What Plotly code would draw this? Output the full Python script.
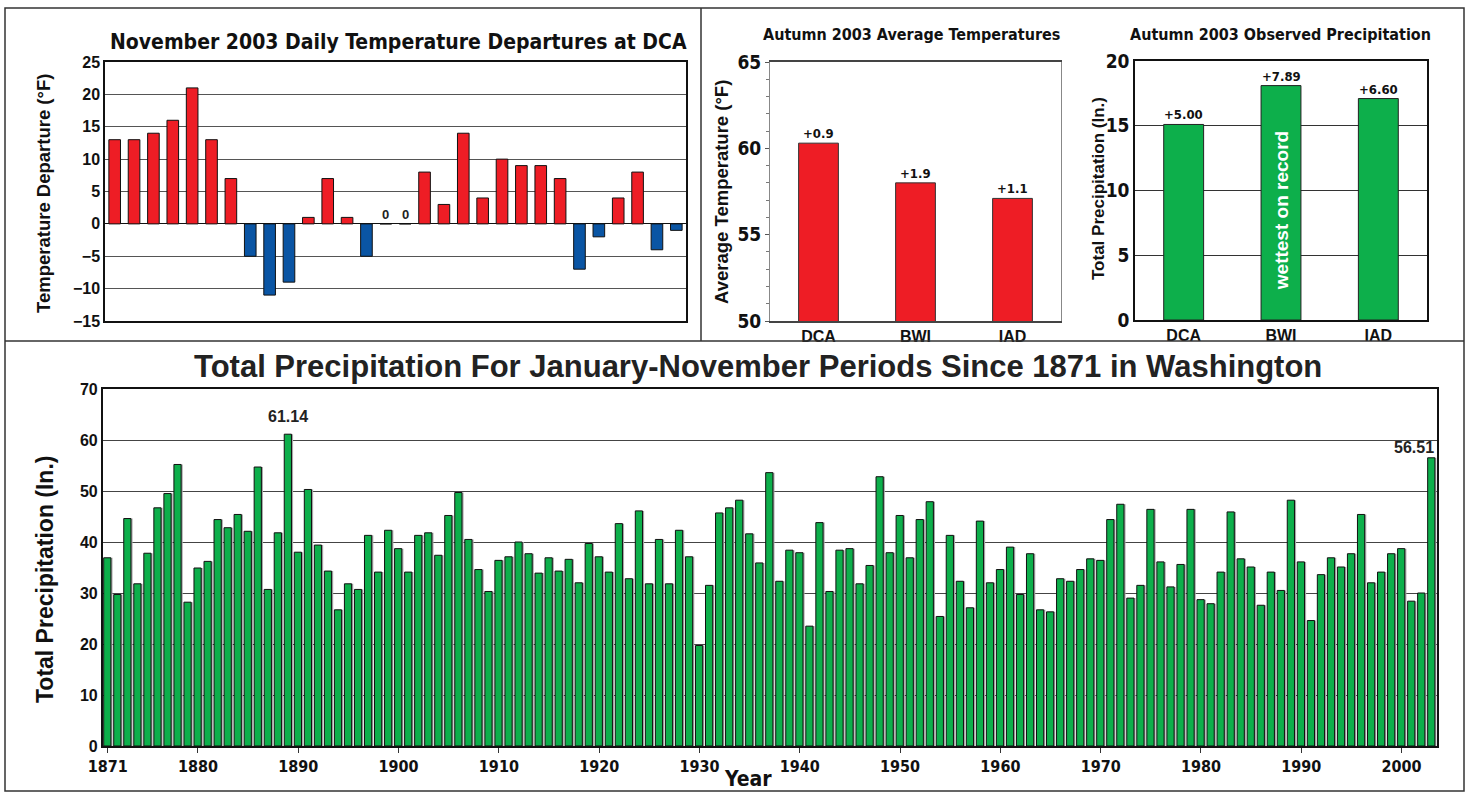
import plotly.graph_objects as go

W, H = 1468, 794

# ---------------- data ----------------
days = list(range(1, 31))
temp_dep = [13, 13, 14, 16, 21, 13, 7, -5, -11, -9, 1, 7, 1, -5, 0, 0, 8, 3, 14, 4,
            10, 9, 9, 7, -7, -2, 4, 8, -4, -1]

stations = ["DCA", "BWI", "IAD"]
avg_temp = [60.3, 58.0, 57.1]
temp_labels = ["+0.9", "+1.9", "+1.1"]
precip = [15.1, 18.1, 17.1]
precip_labels = ["+5.00", "+7.89", "+6.60"]

years = list(range(1871, 2004))
jan_nov_precip = [
    36.9, 29.7, 44.6, 31.8, 37.8, 46.7, 49.5, 55.2, 28.2,
    34.9, 36.2, 44.4, 42.8, 45.4, 42.1, 54.7, 30.7, 41.8, 61.14,
    38.0, 50.3, 39.4, 34.3, 26.7, 31.8, 30.7, 41.3, 34.1, 42.3,
    38.7, 34.1, 41.3, 41.8, 37.4, 45.2, 49.7, 40.5, 34.6, 30.3,
    36.4, 37.1, 40.0, 37.7, 33.9, 36.9, 34.3, 36.6, 32.0, 39.7,
    37.1, 34.1, 43.6, 32.8, 46.1, 31.8, 40.5, 31.8, 42.3, 37.1,
    19.7, 31.5, 45.7, 46.7, 48.2, 41.6, 35.9, 53.6, 32.3, 38.4,
    37.9, 23.5, 43.8, 30.3, 38.4, 38.7, 31.8, 35.4, 52.8, 37.9,
    45.2, 36.9, 44.4, 47.9, 25.4, 41.3, 32.3, 27.1, 44.1, 32.0,
    34.6, 39.0, 29.7, 37.7, 26.7, 26.3, 32.8, 32.3, 34.6, 36.7,
    36.4, 44.4, 47.4, 29.0, 31.5, 46.4, 36.1, 31.2, 35.6, 46.4,
    28.7, 27.9, 34.1, 45.9, 36.7, 35.1, 27.6, 34.1, 30.5, 48.2,
    36.1, 24.6, 33.6, 36.9, 35.1, 37.7, 45.4, 32.0, 34.1, 37.7,
    38.7, 28.4, 30.0, 56.51,
]
year_ticks = [1871, 1880, 1890, 1900, 1910, 1920, 1930, 1940, 1950, 1960, 1970, 1980, 1990, 2000]

# ---------------- styles ----------------
RED = "#EE1D25"
BLUE = "#0A55A4"
GREEN = "#0DAF4B"
INK = "#111111"
ARIAL = "Liberation Sans, Arial, sans-serif"
NARROW = "DejaVu Sans Condensed, Liberation Sans Narrow, sans-serif"


def dx(x0, x1):
    return [x0 / W, x1 / W]


def dy(y_top, y_bot):
    return [1 - y_bot / H, 1 - y_top / H]


def bfont(size, family=ARIAL, color=INK):
    return dict(family=family, size=size, color=color, weight="bold")


fig = go.Figure()

# ---- top-left: daily departures ----
fig.add_trace(go.Bar(
    x=days, y=temp_dep,
    marker=dict(color=[RED if v >= 0 else BLUE for v in temp_dep],
                line=dict(color=INK, width=1)),
    width=0.6, xaxis="x", yaxis="y", showlegend=False))

# ---- top-middle: average temps ----
fig.add_trace(go.Bar(
    x=stations, y=avg_temp,
    marker=dict(color=RED, line=dict(color="#333333", width=1)),
    xaxis="x2", yaxis="y2", showlegend=False, width=0.41))

# ---- top-right: precipitation ----
fig.add_trace(go.Bar(
    x=stations, y=precip,
    marker=dict(color=GREEN, line=dict(color="#222222", width=1)),
    xaxis="x3", yaxis="y3", showlegend=False, width=0.41))

# ---- bottom: Jan-Nov precipitation (grey drop shadow + bars) ----
fig.add_trace(go.Bar(
    x=years, y=jan_nov_precip, width=0.72, offset=-0.24,
    marker=dict(color="#A8A8A8", line=dict(width=0)),
    xaxis="x4", yaxis="y4", showlegend=False, hoverinfo="skip"))
fig.add_trace(go.Bar(
    x=years, y=jan_nov_precip, width=0.72, offset=-0.40,
    marker=dict(color=GREEN, line=dict(color=INK, width=1)),
    xaxis="x4", yaxis="y4", showlegend=False))

fig.update_layout(
    width=W, height=H, margin=dict(l=0, r=0, t=0, b=0, autoexpand=False),
    paper_bgcolor="white", plot_bgcolor="white", barmode="overlay",
    font=dict(family=ARIAL, color=INK),
    xaxis=dict(domain=dx(105, 686), range=[0.5, 30.5], showticklabels=False, ticks="",
               showgrid=False, zeroline=False, showline=True, linecolor=INK,
               linewidth=1.5, mirror=True),
    yaxis=dict(domain=dy(62, 321), range=[-15, 25], dtick=5, tickfont=bfont(16),
               showgrid=True, gridcolor="#555555", gridwidth=1, zeroline=True,
               zerolinecolor=INK, zerolinewidth=1, showline=True,
               linecolor=INK, linewidth=1.5, mirror=True, ticks=""),
    xaxis2=dict(domain=dx(770, 1061), anchor="y2", tickfont=bfont(16),
                showgrid=False, showline=True, linecolor="#444444", linewidth=1.5,
                mirror=True, ticks="", range=[-0.5, 2.5]),
    yaxis2=dict(domain=dy(62, 321), anchor="x2", range=[50, 65], tickvals=[50, 55, 60, 65],
                tickfont=bfont(19, NARROW),
                showgrid=False, zeroline=False, showline=True, linecolor="#888888",
                linewidth=1, mirror=True, ticks="outside", ticklen=4, tickcolor="#555555",
                minor=dict(dtick=1, ticks="outside", ticklen=3, tickcolor="#777777")),
    xaxis3=dict(domain=dx(1135, 1427), anchor="y3", tickfont=bfont(16),
                showgrid=False, showline=True, linecolor=INK, linewidth=1.5,
                mirror=True, ticks="", range=[-0.5, 2.5]),
    yaxis3=dict(domain=dy(61, 320), anchor="x3", range=[0, 20], dtick=5,
                tickfont=bfont(19, NARROW),
                showgrid=True, gridcolor="#333333", zeroline=False, showline=True,
                linecolor=INK, linewidth=1.5, mirror=True, ticks=""),
    xaxis4=dict(domain=dx(102.7, 1436.7), anchor="y4", range=[1870.5, 2003.5],
                tickvals=year_ticks, tickfont=bfont(16, NARROW),
                ticks="outside", ticklen=5, tickcolor="#333333", showgrid=False,
                showline=True, linecolor=INK, linewidth=1.5, mirror=True),
    yaxis4=dict(domain=dy(389, 746), anchor="x4", range=[0, 70], dtick=10,
                tickfont=bfont(16), showgrid=True, gridcolor="#444444", gridwidth=1,
                zeroline=False, showline=True, linecolor=INK, linewidth=1.5,
                mirror=True, ticks=""),
)

ann = []


def label(text, xc, yc, font, angle=0):
    ann.append(dict(text=text, x=xc / W, y=1 - yc / H, xref="paper", yref="paper",
                    xanchor="center", yanchor="middle", showarrow=False, font=font,
                    textangle=angle))


# titles
label("November 2003 Daily Temperature Departures at DCA", 398, 42, bfont(21, NARROW))
label("Autumn 2003 Average Temperatures", 912, 34, bfont(16, NARROW))
label("Autumn 2003 Observed Precipitation", 1280, 34, bfont(16, NARROW))
label("Total Precipitation For January-November Periods Since 1871 in Washington", 758, 367,
      bfont(31, ARIAL, "#222222"))
# axis titles
label("Temperature Departure (°F)", 43, 194, bfont(18.5), -90)
label("Average Temperature (°F)", 721, 192, bfont(18.5), -90)
label("Total Precipitation (In.)", 1098, 189, bfont(17), -90)
label("Total Precipitation (In.)", 45, 580, bfont(23), -90)
label("Year", 748, 779, bfont(21, NARROW))

# zero-value labels
for d, v in zip(days, temp_dep):
    if v == 0:
        ann.append(dict(text="0", x=d, y=v, xref="x", yref="y", yanchor="bottom",
                        showarrow=False, font=bfont(13, ARIAL, "#222222")))
# bar labels
for s, v, t in zip(stations, avg_temp, temp_labels):
    ann.append(dict(text=t, x=s, y=v, xref="x2", yref="y2", yanchor="bottom",
                    showarrow=False, font=bfont(13, NARROW)))
for s, v, t in zip(stations, precip, precip_labels):
    ann.append(dict(text=t, x=s, y=v, xref="x3", yref="y3", yanchor="bottom",
                    showarrow=False, font=bfont(13, NARROW)))
ann.append(dict(text="wettest on record", x="BWI", y=8.4, xref="x3", yref="y3", textangle=-90,
                showarrow=False, font=bfont(19, ARIAL, "white")))
# record labels
imax = jan_nov_precip.index(max(jan_nov_precip))
ann.append(dict(text="%.2f" % jan_nov_precip[imax], x=years[imax], y=jan_nov_precip[imax] + 1.5,
                xref="x4", yref="y4", yanchor="bottom", showarrow=False,
                font=bfont(16, ARIAL, "#222222")))
ann.append(dict(text="%.2f" % jan_nov_precip[-1], x=years[-1] + 0.4, y=jan_nov_precip[-1],
                xref="x4", yref="y4", yanchor="bottom", xanchor="right", showarrow=False,
                font=bfont(16, ARIAL, "#222222")))
fig.update_layout(annotations=ann)

# panel frames
line = dict(color="#333333", width=1.5)
fig.update_layout(shapes=[
    dict(type="rect", xref="paper", yref="paper", x0=5 / W, x1=1464 / W, y0=1 - 791 / H, y1=1 - 8 / H, line=line),
    dict(type="line", xref="paper", yref="paper", x0=701 / W, x1=701 / W, y0=1 - 341 / H, y1=1 - 8 / H, line=line),
    dict(type="line", xref="paper", yref="paper", x0=5 / W, x1=1464 / W, y0=1 - 341 / H, y1=1 - 341 / H, line=line),
])

fig.write_html("out.html", config={"displayModeBar": False},
               post_script="document.body.style.margin='0';document.body.style.overflow='hidden';")
